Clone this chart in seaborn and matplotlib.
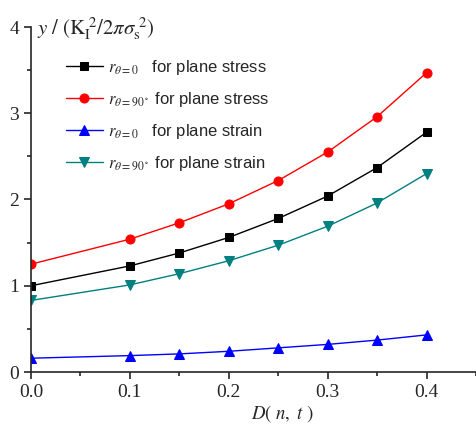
import matplotlib
matplotlib.use("Agg")
import matplotlib.pyplot as plt
import seaborn as sns
import pandas as pd
from matplotlib.ticker import MultipleLocator

D = [0.0, 0.1, 0.15, 0.2, 0.25, 0.3, 0.35, 0.4]
stress_0 = [1.00, 1.23, 1.38, 1.56, 1.78, 2.04, 2.37, 2.78]
stress_90 = [1.25, 1.54, 1.73, 1.95, 2.22, 2.55, 2.96, 3.47]
strain_0 = [0.16, 0.19, 0.21, 0.24, 0.28, 0.32, 0.37, 0.43]
strain_90 = [0.83, 1.01, 1.14, 1.29, 1.47, 1.69, 1.96, 2.30]

labels = [r"$r_{\theta=0}$   for plane stress",
          r"$r_{\theta=90^\circ}$ for plane stress",
          r"$r_{\theta=0}$   for plane strain",
          r"$r_{\theta=90^\circ}$ for plane strain"]
series = [stress_0, stress_90, strain_0, strain_90]
colors = ["black", "red", "blue", "#008080"]
markers = ["s", "o", "^", "v"]
msizes = [6, 6.5, 7, 7]

sns.set_style("ticks")
plt.rcParams["font.family"] = ["Liberation Sans", "DejaVu Sans"]
plt.rcParams["mathtext.fontset"] = "stix"

fig = plt.figure(figsize=(4.76, 4.36), dpi=100)
ax = fig.add_axes([31/476, (436-372)/436, (476-31)/476, (372-27)/436])

for lab, ys, c, m, ms in zip(labels, series, colors, markers, msizes):
    df = pd.DataFrame({"D": D, "y": ys})
    sns.lineplot(data=df, x="D", y="y", ax=ax, color=c, marker=m, markersize=ms,
                 markeredgecolor=c, linewidth=1, label=lab)

ax.set_xlim(0, 0.45)
ax.set_ylim(0, 4)
ax.xaxis.set_major_locator(MultipleLocator(0.1))
ax.xaxis.set_minor_locator(MultipleLocator(0.05))
ax.yaxis.set_major_locator(MultipleLocator(1))
ax.yaxis.set_minor_locator(MultipleLocator(0.5))
ax.set_xticks([0.0, 0.1, 0.2, 0.3, 0.4])
ax.set_xticklabels(["0.0", "0.1", "0.2", "0.3", "0.4"])
for s in ["top", "right"]:
    ax.spines[s].set_visible(False)
for s in ["left", "bottom"]:
    ax.spines[s].set_linewidth(1.2)
ax.tick_params(which="major", direction="out", length=5, width=1.2, labelsize=14)
ax.tick_params(which="minor", direction="out", length=3, width=1.2)
for t in ax.get_xticklabels() + ax.get_yticklabels():
    t.set_fontfamily("Liberation Serif")

ax.set_xlabel(r"$D(\ n,\ t\ )$", fontsize=13.5, labelpad=8)
ax.xaxis.set_label_coords(0.566, -0.09)
ax.set_ylabel("")
ax.text(0.006, 3.98, r"$y\ /\ (\mathrm{K}_\mathrm{I}^{\ 2}/2\pi\sigma_\mathrm{s}^{\ 2})$",
        fontsize=15, va="center", ha="left", clip_on=False)

leg = ax.legend(loc="upper left", bbox_to_anchor=(0.045, 0.953), frameon=False,
                fontsize=12, handlelength=2.2, labelspacing=0.78, handletextpad=0.3)

fig.savefig("out.png", dpi=100)
